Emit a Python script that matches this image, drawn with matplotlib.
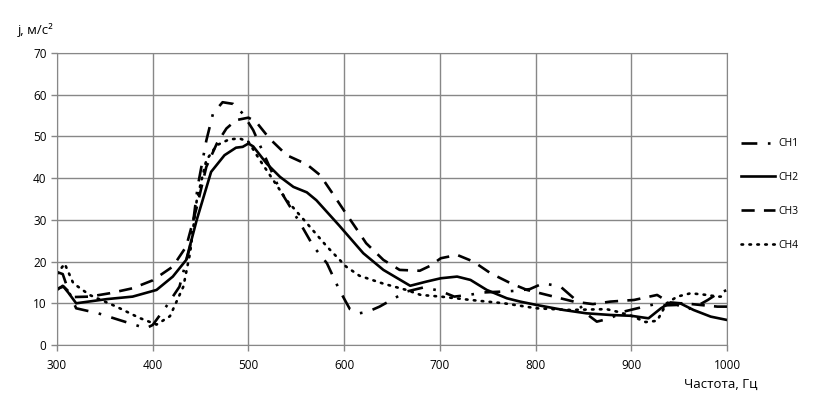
import matplotlib.pyplot as plt

plt.rcParams['font.family'] = ['Open Sans', 'DejaVu Sans']

# частота, Гц / ускорение, м/с2
f1 = [300, 306, 312, 320, 343, 365, 393, 400, 414, 428, 439, 447, 456, 463, 473, 484, 494, 505,
      519, 533, 554, 568, 582, 595, 606, 616, 625, 637, 651, 665, 683, 700, 715, 730, 746, 765,
      780, 794, 808, 826, 840, 853, 864, 878, 892, 910, 925, 935, 948, 958, 970, 980, 988, 1000]
ch1 = [17.5, 17, 13, 8.8, 7.6, 6, 4, 4.8, 9.2, 14, 23.6, 38, 49, 55.5, 58.2, 57.8, 55.5, 51.5,
       44.3, 37.1, 29.2, 23.6, 19.6, 13.2, 8.6, 7.6, 8, 9.2, 11, 12.8, 13.8, 13, 11.6, 12, 12.6, 12.8,
       13, 13.4, 14.8, 14, 11.2, 7.5, 5.6, 6.4, 8, 9, 9.8, 9.5, 9.6, 8.5, 9.5, 10.8, 12, 13.2]

f2 = [300, 306, 312, 320, 352, 379, 404, 421, 435, 446, 461, 475, 487, 494, 500, 505, 519, 533,
      547, 561, 571, 595, 620, 641, 669, 686, 701, 718, 732, 749, 770, 784, 801, 829, 853, 878,
      900, 918, 931, 941, 951, 965, 983, 1000]
ch2 = [13.2, 14.2, 12.5, 10, 11, 11.6, 13.2, 16.4, 20.4, 30, 41.5, 45.5, 47.3, 47.5, 48.3, 47.6,
       43.5, 40.3, 37.9, 36.6, 34.7, 28.6, 22, 18, 14.2, 15.2, 16, 16.4, 15.6, 13.2, 11.2, 10.4, 9.6,
       8.4, 7.6, 7.2, 7, 6.4, 8.8, 10.2, 10, 8.4, 6.8, 6]

f3 = [300, 307, 318, 334, 355, 379, 400, 421, 435, 446, 456, 467, 477, 487, 500, 508, 522, 540,
      561, 575, 588, 602, 616, 623, 641, 658, 679, 690, 701, 718, 735, 753, 774, 791, 805, 819,
      840, 860, 878, 903, 927, 941, 955, 972, 990, 1000]
ch3 = [13.5, 14, 11.5, 11.6, 12.4, 13.6, 15.5, 18.8, 23.6, 33, 42.7, 48.3, 51.9, 53.9, 54.5, 53.5,
       49.5, 45.5, 43.3, 40.7, 36.3, 31.5, 26.8, 24.4, 20.4, 18, 17.8, 19, 20.8, 21.6, 20, 17.2,
       14.8, 13.2, 12.4, 11.6, 10.4, 9.8, 10.4, 10.8, 12, 10, 10, 9.6, 9.2, 9.2]

f4 = [300, 308, 317, 334, 362, 386, 404, 418, 432, 439, 446, 456, 467, 480, 491, 500, 512, 526,
      540, 561, 582, 602, 616, 641, 665, 680, 701, 732, 767, 801, 836, 874, 885, 900, 915, 927,
      937, 948, 962, 979, 990, 1000]
ch4 = [17, 19.5, 14.8, 12, 9.2, 6.5, 4.9, 6.9, 14, 22, 34.7, 44.3, 47.9, 49.3, 49.5, 48.7, 44.3,
       39.5, 34.7, 29.2, 23.6, 18.8, 16.6, 14.7, 13.2, 12, 11.6, 10.8, 10, 8.8, 8.4, 8.6, 8, 7,
       5.5, 5.8, 10, 11.6, 12.4, 12, 11.6, 11.6]

fig = plt.figure(figsize=(8.18, 4.09), dpi=100)
ax = fig.add_axes([57 / 818, 1 - 345 / 409, 670 / 818, 292 / 409])

ax.plot(f1, ch1, color='black', lw=1.9, dashes=(6, 4, 1, 4), label='CH1')
ax.plot(f2, ch2, color='black', lw=1.9, label='CH2')
ax.plot(f3, ch3, color='black', lw=1.9, dashes=(5, 3.5), label='CH3')
ax.plot(f4, ch4, color='black', lw=1.9, dashes=(0.6, 2.4), dash_capstyle='round', label='CH4')

ax.set_xlim(300, 1000)
ax.set_ylim(0, 70)
ax.set_xticks(range(300, 1001, 100))
ax.set_yticks(range(0, 71, 10))
ax.grid(True, color='#878787', lw=1.0)
ax.set_axisbelow(True)
for s in ax.spines.values():
    s.set_color('#878787')
ax.tick_params(colors='#878787', labelcolor='black', labelsize=8.5, length=4, width=1)
ax.tick_params(axis='x', pad=6)

fig.text(18 / 818, 1 - 30 / 409, 'j, м/с²', fontsize=9.5, va='center', ha='left')
fig.text(721 / 818, 1 - 384 / 409, 'Частота, Гц', fontsize=9.5, va='center', ha='center')

ax.legend(loc='upper left', bbox_to_anchor=(737 / 818, 1 - 134 / 409), bbox_transform=fig.transFigure,
          frameon=False, fontsize=7.5, handlelength=3.2, handletextpad=0.4, labelspacing=2.2,
          borderaxespad=0)

fig.savefig('out.png', dpi=100)
